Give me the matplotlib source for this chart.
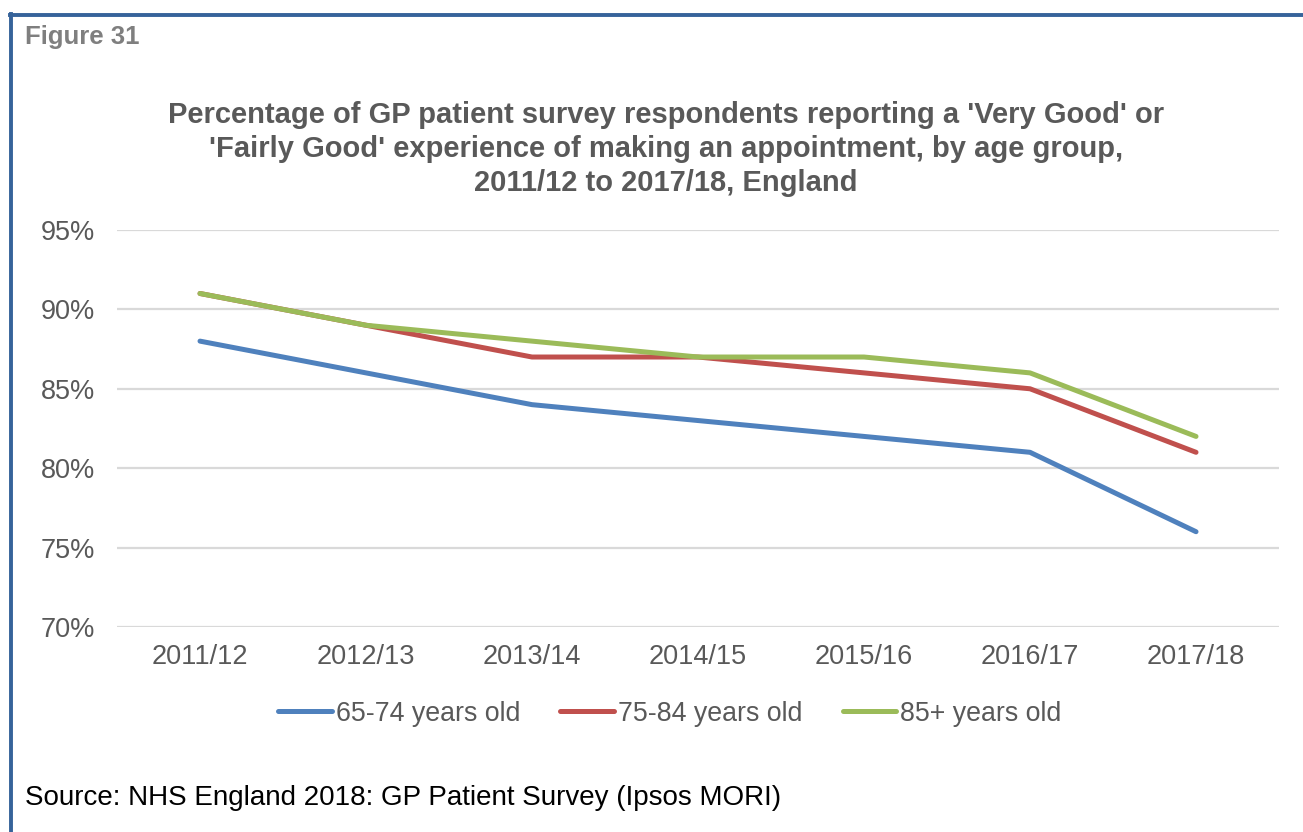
import numpy as np
import matplotlib.pyplot as plt
import matplotlib as mpl
from matplotlib.lines import Line2D

mpl.rcParams['font.family'] = ['Liberation Sans', 'DejaVu Sans']

years = ['2011/12', '2012/13', '2013/14', '2014/15', '2015/16', '2016/17', '2017/18']
age_65_74 = [88, 86, 84, 83, 82, 81, 76]
age_75_84 = [91, 89, 87, 87, 86, 85, 81]
age_85_plus = [91, 89, 88, 87, 87, 86, 82]
series_names = ['65-74 years old', '75-84 years old', '85+ years old']
colors = ['#4F81BD', '#C0504D', '#9BBB59']

grey = '#595959'

fig = plt.figure(figsize=(13.03, 8.32), dpi=100)
ax = fig.add_axes([0.0898, 0.2464, 0.8918, 0.4772])

x = np.arange(len(years))
for vals, c in zip([age_65_74, age_75_84, age_85_plus], colors):
    ax.plot(x, vals, color=c, lw=3.6, solid_capstyle='round', solid_joinstyle='round')

ax.set_xlim(-0.5, len(years) - 0.5)
ax.set_ylim(70, 95)
ax.set_yticks(np.arange(70, 96, 5))
ax.set_yticklabels([f'{v}%' for v in range(70, 96, 5)])
ax.set_xticks(x)
ax.set_xticklabels(years)
ax.tick_params(length=0, labelsize=19.5, colors=grey)
ax.tick_params(axis='x', pad=12)
ax.tick_params(axis='y', pad=16)
ax.grid(axis='y', color='#D9D9D9', lw=1.6)
ax.set_axisbelow(True)
for s in ax.spines.values():
    s.set_visible(False)

handles = [Line2D([], [], color=c, lw=3.6, solid_capstyle='round') for c in colors]
leg = fig.legend(handles, series_names, loc='center', bbox_to_anchor=(0.514, 0.142),
                 ncol=3, frameon=False, fontsize=19.3, handlelength=2.0,
                 handletextpad=0.15, columnspacing=1.5)
for t in leg.get_texts():
    t.set_color(grey)

fig.text(0.511, 0.821, "Percentage of GP patient survey respondents reporting a 'Very Good' or\n"
         "'Fairly Good' experience of making an appointment, by age group,\n"
         "2011/12 to 2017/18, England", ha='center', va='center', fontsize=21,
         fontweight='bold', color=grey, linespacing=1.27)

fig.text(0.019, 0.956, 'Figure 31', ha='left', va='center', fontsize=18.5,
         fontweight='bold', color='#7F7F7F')
fig.text(0.019, 0.041, 'Source: NHS England 2018: GP Patient Survey (Ipsos MORI)',
         ha='left', va='center', fontsize=20, color='black')

# frame lines on top and left
border = '#36639A'
fig.add_artist(Line2D([0.0075, 1.0], [0.9815, 0.9815], color=border, lw=2.8,
                      transform=fig.transFigure))
fig.add_artist(Line2D([0.0085, 0.0085], [0.0, 0.983], color=border, lw=2.8,
                      transform=fig.transFigure))

plt.savefig('out.png', dpi=100)
